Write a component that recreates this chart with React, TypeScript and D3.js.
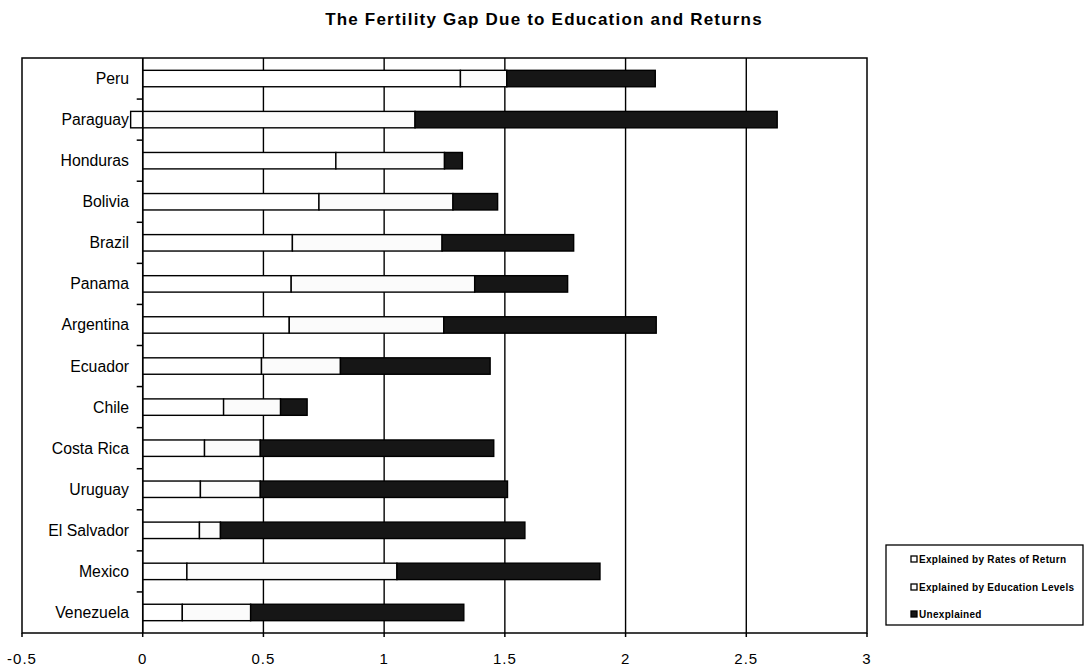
import React from "react";
import * as d3 from "d3";

const categories = ["Peru", "Paraguay", "Honduras", "Bolivia", "Brazil", "Panama", "Argentina", "Ecuador", "Chile", "Costa Rica", "Uruguay", "El Salvador", "Mexico", "Venezuela"];
const returnsVals = [1.316, -0.05, 0.8, 0.73, 0.62, 0.615, 0.607, 0.492, 0.335, 0.256, 0.239, 0.235, 0.183, 0.164];
const educationVals = [0.192, 1.128, 0.45, 0.555, 0.62, 0.76, 0.64, 0.327, 0.236, 0.231, 0.248, 0.087, 0.87, 0.283];
const unexplainedVals = [0.615, 1.5, 0.074, 0.185, 0.545, 0.385, 0.88, 0.62, 0.11, 0.967, 1.024, 1.261, 0.841, 0.883];
const seriesNames = ["Explained by Rates of Return", "Explained by Education Levels", "Unexplained"];
const seriesFills = ["#ffffff", "#fbfbfb", "#161616"];
const xTicks = [-0.5, 0, 0.5, 1, 1.5, 2, 2.5, 3];
const xTickLabels = ["-0.5", "0", "0.5", "1", "1.5", "2", "2.5", "3"];
const title = "The Fertility Gap Due to Education and Returns";

const W = 1086;
const H = 667;
const FONT = "'Liberation Sans', Arial, Helvetica, sans-serif";

export default function App() {
  const left = 22, right = 867, top = 58, bottom = 633;
  const x = d3.scaleLinear().domain([-0.5, 3]).range([left, right]);
  const y = d3.scaleBand<string>().domain(categories).range([top, bottom]).paddingInner(0.6).paddingOuter(0.3);
  const step = y.step();

  const rows = categories.map((c, i) => ({
    cat: c,
    [seriesNames[0]]: returnsVals[i],
    [seriesNames[1]]: educationVals[i],
    [seriesNames[2]]: unexplainedVals[i],
  }));
  const stack = d3.stack<any>().keys(seriesNames).offset(d3.stackOffsetDiverging);
  const layers = stack(rows);

  const gridVals = xTicks.filter((v) => v > -0.5 && v < 3);
  const boundaries = d3.range(1, categories.length).map((k) => top + k * step);

  const legendRows = [560, 588, 615];

  return (
    <svg width={W} height={H} style={{ position: "absolute", left: 0, top: 0, background: "#fff" }} fontFamily={FONT}>
      <rect x={0} y={0} width={W} height={H} fill="#fff" />
      <text x={544} y={25} textAnchor="middle" fontSize={17} fontWeight="bold" letterSpacing={1.2} fill="#000">
        {title}
      </text>

      {/* gridlines */}
      {gridVals.map((v) => (
        <line key={"g" + v} x1={x(v)} x2={x(v)} y1={top} y2={bottom} stroke="#000" strokeWidth={1.4} />
      ))}

      {/* bars */}
      {layers.map((layer, li) =>
        layer.map((d, i) => {
          const x0 = x(Math.min(d[0], d[1]));
          const x1 = x(Math.max(d[0], d[1]));
          return (
            <rect
              key={li + "-" + i}
              x={x0}
              y={y(categories[i])!}
              width={Math.max(0, x1 - x0)}
              height={y.bandwidth()}
              fill={seriesFills[li]}
              stroke="#000"
              strokeWidth={1.4}
            />
          );
        })
      )}

      {/* frame */}
      <rect x={left} y={top} width={right - left} height={bottom - top} fill="none" stroke="#000" strokeWidth={1.5} />

      {/* y axis at 0 */}
      <line x1={x(0)} x2={x(0)} y1={top} y2={bottom} stroke="#000" strokeWidth={1.5} />
      {boundaries.map((b, i) => (
        <line key={"yt" + i} x1={x(0) - 6} x2={x(0)} y1={b} y2={b} stroke="#000" strokeWidth={1.5} />
      ))}
      {categories.map((c) => (
        <text key={"yl" + c} x={129} y={y(c)! + y.bandwidth() / 2 + 5.5} textAnchor="end" fontSize={15.8} fill="#000">
          {c}
        </text>
      ))}

      {/* x axis ticks and labels */}
      {xTicks.map((v, i) => (
        <g key={"xt" + v}>
          <line x1={x(v)} x2={x(v)} y1={bottom} y2={bottom + 4} stroke="#000" strokeWidth={1.5} />
          <text x={x(v)} y={664} textAnchor="middle" fontSize={15} letterSpacing={1} fill="#000">
            {xTickLabels[i]}
          </text>
        </g>
      ))}

      {/* legend */}
      <rect x={886} y={545} width={197} height={80} fill="#fff" stroke="#000" strokeWidth={1.3} />
      {seriesNames.map((n, i) => (
        <g key={"lg" + n}>
          <rect x={911} y={legendRows[i] - 4} width={6} height={6} fill={seriesFills[i]} stroke="#000" strokeWidth={1.3} />
          <text x={919} y={legendRows[i] + 3} fontSize={10} fontWeight="bold" letterSpacing={0.3} fill="#000">
            {n}
          </text>
        </g>
      ))}
    </svg>
  );
}
